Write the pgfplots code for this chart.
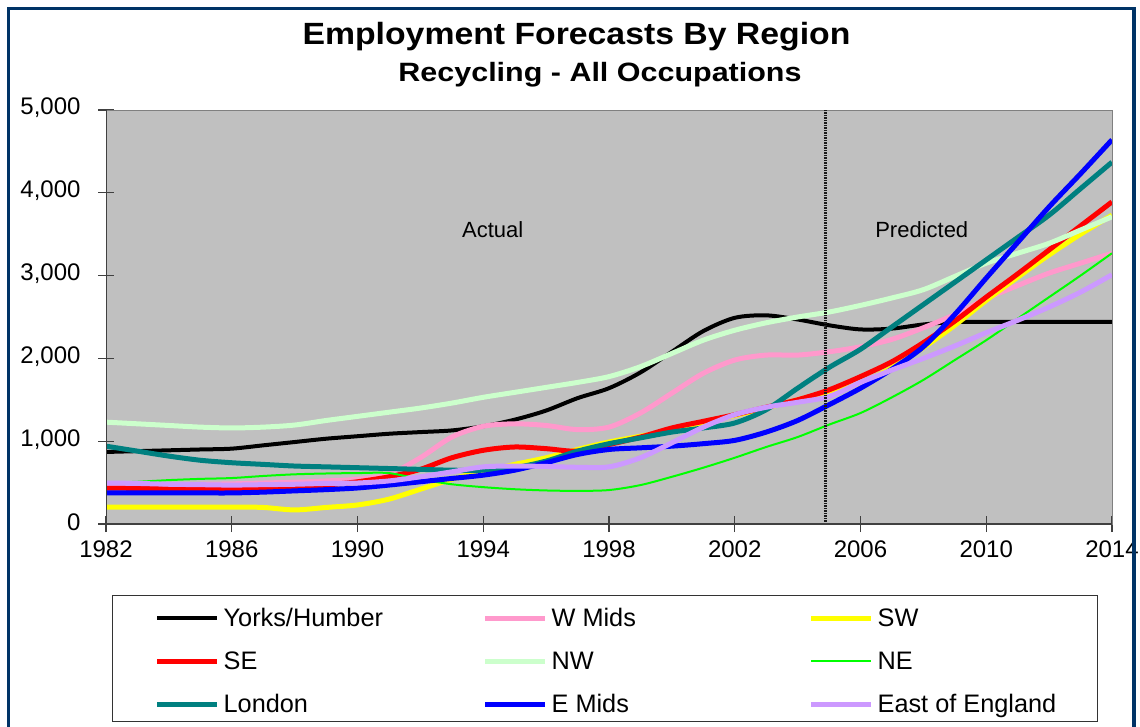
\documentclass[border=0pt]{standalone}
\usepackage{fontspec}
\setmainfont{Liberation Sans}
\usepackage{graphicx}
\usepackage{pgfplots}
\pgfplotsset{compat=1.18}
\definecolor{bgray}{HTML}{C0C0C0}
\definecolor{navy}{HTML}{003366}
\definecolor{wmids}{HTML}{FF99CC}
\definecolor{sw}{HTML}{FFFF00}
\definecolor{se}{HTML}{FF0000}
\definecolor{nw}{HTML}{CCFFCC}
\definecolor{ne}{HTML}{00FF00}
\definecolor{london}{HTML}{008080}
\definecolor{emids}{HTML}{0000FF}
\definecolor{eoe}{HTML}{CC99FF}
\begin{document}
\begin{tikzpicture}
\useasboundingbox (0pt,0pt) rectangle (1140pt,726pt);
\fill[white] (0pt,0pt) rectangle (1140pt,726pt);
\node[anchor=base, inner sep=0pt, font=\fontsize{30.7}{36}\selectfont\bfseries] at (576.5pt,681pt) {\scalebox{1.1}[1]{Employment Forecasts By Region}};
\node[anchor=base, inner sep=0pt, font=\fontsize{26.5}{30}\selectfont\bfseries] at (600pt,644pt) {\scalebox{1.15}[1]{Recycling - All Occupations}};
\begin{axis}[
  at={(106pt,202pt)}, anchor=south west,
  scale only axis, width=1006pt, height=414pt,
  xmin=1982, xmax=2014, ymin=0, ymax=5000,
  xtick={1982,1986,...,2014}, ytick={0,1000,...,5000},
  axis background/.style={fill=bgray},
  axis line style={draw=gray, line width=0.8pt},
  tick align=center, major tick length=16pt,
  xtick pos=bottom, ytick pos=left,
  tick style={black!75, line width=1.2pt},
  ticklabel style={font=\fontsize{24}{28}\selectfont, /pgf/number format/assume math mode=true},
  yticklabel style={/pgf/number format/1000 sep={,}, xshift=-14pt, yshift=2pt},
  xticklabel style={/pgf/number format/set thousands separator={}, yshift=-5pt},
  no markers,
  every axis plot/.append style={smooth},
  legend columns=3,
  legend cell align=left,
  legend image code/.code={\draw[#1] (0pt,-3pt) -- (60pt,-3pt);},
  legend style={at={(0.006,-0.1703)}, anchor=north west, draw=black!80, line width=1.2pt,
    inner xsep=42pt, inner ysep=7.5pt, row sep=17.5pt,
    /tikz/every odd column/.append style={column sep=4pt},
    nodes={inner sep=0pt},
    font=\fontsize{25.3}{28}\selectfont},
]
\addplot[black, line width=4pt] coordinates {
(1982,870)(1983,880)(1984,890)(1985,900)(1986,910)(1987,950)(1988,990)(1989,1030)(1990,1060)(1991,1090)(1992,1110)(1993,1130)(1994,1180)(1995,1260)(1996,1370)(1997,1520)(1998,1640)(1999,1830)(2000,2080)(2001,2330)(2002,2490)(2003,2520)(2004,2470)(2005,2400)(2006,2350)(2007,2360)(2008,2410)(2009,2440)(2010,2440)(2011,2440)(2012,2440)(2013,2440)(2014,2440)};
\addlegendentry{\makebox[259pt][l]{\rule[-7pt]{0pt}{31pt}Yorks/Humber}}
\addplot[wmids, line width=5pt] coordinates {
(1982,470)(1983,470)(1984,475)(1985,480)(1986,485)(1987,495)(1988,505)(1989,520)(1990,540)(1991,600)(1992,800)(1993,1050)(1994,1180)(1995,1210)(1996,1190)(1997,1140)(1998,1170)(1999,1340)(2000,1580)(2001,1820)(2002,1980)(2003,2040)(2004,2040)(2005,2080)(2006,2140)(2007,2230)(2008,2370)(2009,2530)(2010,2720)(2011,2880)(2012,3030)(2013,3150)(2014,3270)};
\addlegendentry{\makebox[257pt][l]{\rule[-7pt]{0pt}{31pt}W Mids}}
\addplot[sw, line width=5pt] coordinates {
(1982,205)(1983,205)(1984,205)(1985,205)(1986,205)(1987,200)(1988,170)(1989,200)(1990,230)(1991,300)(1992,420)(1993,540)(1994,640)(1995,720)(1996,800)(1997,900)(1998,990)(1999,1060)(2000,1130)(2001,1220)(2002,1310)(2003,1400)(2004,1500)(2005,1600)(2006,1700)(2007,1890)(2008,2130)(2009,2400)(2010,2700)(2011,2980)(2012,3250)(2013,3500)(2014,3730)};
\addlegendentry{\makebox[178pt][l]{\rule[-7pt]{0pt}{31pt}SW}}
\addplot[se, line width=5pt] coordinates {
(1982,435)(1983,430)(1984,425)(1985,425)(1986,425)(1987,430)(1988,440)(1989,470)(1990,510)(1991,570)(1992,660)(1993,800)(1994,890)(1995,930)(1996,910)(1997,880)(1998,960)(1999,1050)(2000,1160)(2001,1240)(2002,1320)(2003,1410)(2004,1500)(2005,1620)(2006,1780)(2007,1960)(2008,2190)(2009,2450)(2010,2740)(2011,3020)(2012,3310)(2013,3600)(2014,3890)};
\addlegendentry{\makebox[259pt][l]{\rule[-7pt]{0pt}{31pt}SE}}
\addplot[nw, line width=5pt] coordinates {
(1982,1230)(1983,1210)(1984,1190)(1985,1170)(1986,1160)(1987,1170)(1988,1195)(1989,1250)(1990,1300)(1991,1350)(1992,1400)(1993,1460)(1994,1530)(1995,1590)(1996,1650)(1997,1710)(1998,1780)(1999,1900)(2000,2060)(2001,2220)(2002,2340)(2003,2430)(2004,2500)(2005,2560)(2006,2640)(2007,2730)(2008,2830)(2009,2990)(2010,3150)(2011,3270)(2012,3390)(2013,3550)(2014,3710)};
\addlegendentry{\makebox[257pt][l]{\rule[-7pt]{0pt}{31pt}NW}}
\addplot[ne, line width=2pt] coordinates {
(1982,495)(1983,510)(1984,530)(1985,545)(1986,555)(1987,580)(1988,600)(1989,610)(1990,615)(1991,615)(1992,540)(1993,480)(1994,445)(1995,420)(1996,405)(1997,400)(1998,410)(1999,470)(2000,570)(2001,680)(2002,800)(2003,930)(2004,1050)(2005,1200)(2006,1340)(2007,1530)(2008,1740)(2009,1980)(2010,2220)(2011,2480)(2012,2740)(2013,3000)(2014,3270)};
\addlegendentry{\makebox[178pt][l]{\rule[-7pt]{0pt}{31pt}NE}}
\addplot[london, line width=5pt] coordinates {
(1982,940)(1983,880)(1984,820)(1985,770)(1986,740)(1987,720)(1988,700)(1989,690)(1990,680)(1991,670)(1992,660)(1993,650)(1994,650)(1995,680)(1996,760)(1997,880)(1998,970)(1999,1040)(2000,1110)(2001,1160)(2002,1220)(2003,1380)(2004,1640)(2005,1890)(2006,2110)(2007,2380)(2008,2650)(2009,2920)(2010,3190)(2011,3460)(2012,3730)(2013,4050)(2014,4370)};
\addlegendentry{\makebox[259pt][l]{\rule[-7pt]{0pt}{31pt}London}}
\addplot[emids, line width=5pt] coordinates {
(1982,375)(1983,375)(1984,375)(1985,375)(1986,375)(1987,385)(1988,400)(1989,415)(1990,435)(1991,470)(1992,510)(1993,550)(1994,590)(1995,650)(1996,740)(1997,840)(1998,900)(1999,920)(2000,940)(2001,970)(2002,1010)(2003,1110)(2004,1250)(2005,1440)(2006,1640)(2007,1870)(2008,2140)(2009,2530)(2010,2970)(2011,3400)(2012,3830)(2013,4230)(2014,4640)};
\addlegendentry{\makebox[257pt][l]{\rule[-7pt]{0pt}{31pt}E Mids}}
\addplot[eoe, line width=5pt] coordinates {
(1982,495)(1983,490)(1984,480)(1985,475)(1986,470)(1987,475)(1988,480)(1989,490)(1990,495)(1991,520)(1992,570)(1993,630)(1994,690)(1995,700)(1996,695)(1997,685)(1998,690)(1999,800)(2000,980)(2001,1170)(2002,1320)(2003,1410)(2004,1470)(2005,1540)(2006,1710)(2007,1860)(2008,2000)(2009,2150)(2010,2310)(2011,2460)(2012,2620)(2013,2800)(2014,3010)};
\addlegendentry{\makebox[178pt][l]{\rule[-7pt]{0pt}{31pt}East of England}}
\draw[black!90, line width=3pt, dash pattern=on 1.5pt off 1pt] (axis cs:2004.9,0) -- (axis cs:2004.9,5000);
\node[font=\fontsize{22}{26}\selectfont] at (axis cs:1994.3,3551) {Actual};
\node[font=\fontsize{22}{26}\selectfont] at (axis cs:2007.95,3551) {Predicted};
\draw[black!75, line width=1.5pt] (rel axis cs:0,1) -- (rel axis cs:0,0) -- (rel axis cs:1,0);
\end{axis}
\draw[navy, line width=3.5pt] (8.5pt,-10pt) -- (8.5pt,717.5pt) -- (1134pt,717.5pt) -- (1134pt,-10pt);
\end{tikzpicture}
\end{document}
